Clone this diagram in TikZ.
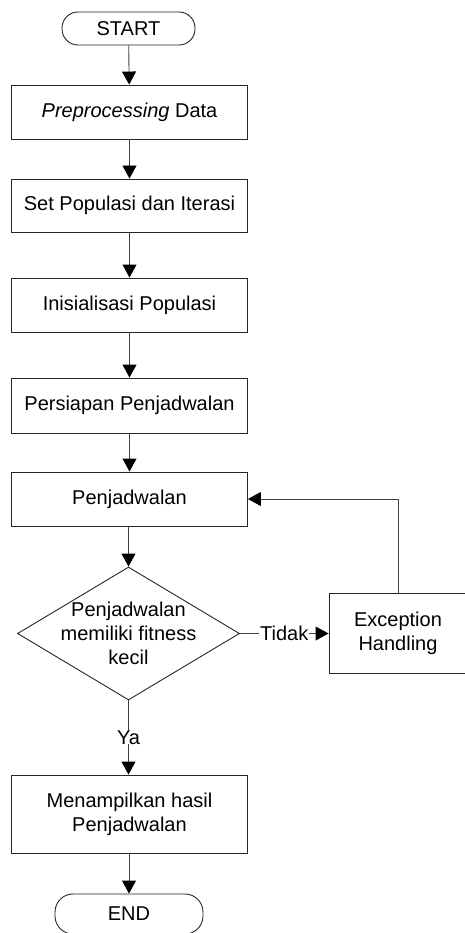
\documentclass[tikz,border=0pt]{standalone}
\usepackage{fontspec}
\setmainfont{Liberation Sans}
\usetikzlibrary{arrows.meta,shapes.geometric}

\begin{document}
\begin{tikzpicture}[x=1pt, y=-1pt, line width=0.9pt,
	every node/.style={font=\fontsize{20}{24}\selectfont},
	proses/.style={draw=black!85, minimum width=236pt, inner sep=0pt, align=center},
	terminal/.style={draw=black!85, rounded corners=16pt, minimum height=33pt, inner sep=0pt},
	panah/.style={-{Triangle[width=14pt,length=13pt,color=black]}, draw=black!75},
	ket/.style={fill=white, inner xsep=1pt, inner ysep=0pt}]

	\useasboundingbox (0,0) rectangle (464,933);

	\node[terminal, minimum width=133pt] (start) at (128.5,28.5) {START};
	\node[proses, minimum height=54pt] (prep) at (129.5,112) {\textit{Preprocessing} Data};
	\node[proses, minimum height=53pt] (setpop) at (129.5,205.5) {Set Populasi dan Iterasi};
	\node[proses, minimum height=54pt] (inisial) at (129.5,305) {Inisialisasi Populasi};
	\node[proses, minimum height=55pt] (persiapan) at (129.5,405.5) {Persiapan Penjadwalan};
	\node[proses, minimum height=54pt] (jadwal) at (129.5,499) {Penjadwalan};

	% keputusan
	\node[draw=black!85, diamond, minimum width=222pt, minimum height=133pt, inner sep=0pt] (cek) at (128.5,633.5) {};
	\node[align=center, inner sep=0pt] (cektxt) at (cek) {Penjadwalan\\memiliki fitness\\kecil};

	\node[proses, minimum width=138pt, minimum height=80pt] (exc) at (398,633.5) {Exception\\Handling};
	\node[proses, minimum height=78pt] (hasil) at (129.5,814) {Menampilkan hasil\\Penjadwalan};
	\node[terminal, minimum width=148pt, minimum height=40pt, rounded corners=18pt] (end) at (129,914) {END};

	\draw[panah] (start) -- (prep);
	\draw[panah] (prep) -- (setpop);
	\draw[panah] (setpop) -- (inisial);
	\draw[panah] (inisial) -- (persiapan);
	\draw[panah] (persiapan) -- (jadwal);
	\draw[panah] (jadwal.south -| cek.north) -- (cek.north);
	\draw[panah] (cek.east) -- node[ket] (tidak) {Tidak} (exc.west);
	\draw[panah] (exc.north) |- (jadwal.east);
	\draw[panah] (cek.south) -- node[ket] (ya) {Ya} (cek.south |- hasil.north);
	\draw[panah] (hasil.south -| end.north) -- (end.north);

\end{tikzpicture}
\end{document}
